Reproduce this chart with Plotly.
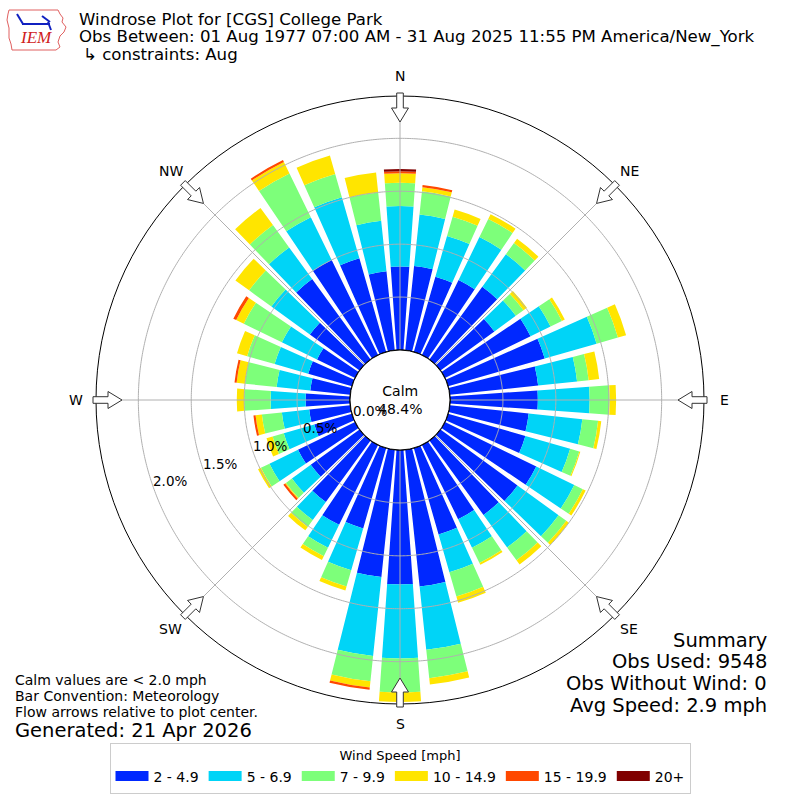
import numpy as np
import plotly.graph_objects as go

# wind direction bins (degrees, meteorological convention)
directions = list(range(0, 360, 10))
speed_bins = ['2 - 4.9', '5 - 6.9', '7 - 9.9', '10 - 14.9', '15 - 19.9', '20+']
colors = ['#0028ff', '#00d4f7', '#7dff7a', '#ffe500', '#ff4800', '#800000']

# frequency (% of obs) for each speed bin, by direction
spd_2_5 = [0.79, 0.80, 0.74, 0.79, 0.85, 0.63, 0.90, 0.95, 0.84, 0.83, 0.75, 0.76,
           0.96, 0.90, 0.87, 0.78, 0.85, 1.30, 1.27, 1.21, 0.79, 0.84, 0.72, 0.57,
           0.60, 0.37, 0.39, 0.42, 0.38, 0.43, 0.40, 0.58, 0.94, 1.00, 0.92, 0.75]
spd_5_7 = [0.57, 0.49, 0.40, 0.45, 0.38, 0.25, 0.21, 0.51, 0.37, 0.49, 0.51, 0.44,
           0.40, 0.48, 0.38, 0.30, 0.37, 0.60, 0.70, 0.75, 0.41, 0.24, 0.21, 0.22,
           0.30, 0.30, 0.26, 0.33, 0.32, 0.33, 0.37, 0.45, 0.37, 0.45, 0.60, 0.48]
spd_7_10 = [0.22, 0.22, 0.19, 0.19, 0.13, 0.09, 0.12, 0.21, 0.11, 0.19, 0.15, 0.09,
            0.09, 0.09, 0.15, 0.16, 0.24, 0.27, 0.32, 0.24, 0.16, 0.09, 0.08, 0.07,
            0.09, 0.11, 0.19, 0.25, 0.30, 0.27, 0.40, 0.26, 0.26, 0.46, 0.23, 0.27]
spd_10_15 = [0.09, 0.04, 0.07, 0.05, 0.05, 0.04, 0.03, 0.08, 0.10, 0.06, 0.03, 0.01,
             0.03, 0.03, 0.05, 0.02, 0.06, 0.06, 0.09, 0.06, 0.04, 0.04, 0.04, 0.01,
             0.03, 0.06, 0.06, 0.07, 0.08, 0.10, 0.08, 0.16, 0.20, 0.12, 0.18, 0.19]
spd_15_20 = [0.02, 0.02, 0, 0, 0, 0, 0, 0, 0, 0, 0, 0,
             0, 0, 0, 0, 0, 0, 0, 0.02, 0, 0, 0, 0.02,
             0, 0, 0.02, 0, 0.02, 0, 0.03, 0, 0, 0.02, 0, 0]
spd_20 = [0.02, 0, 0, 0, 0, 0, 0, 0, 0, 0, 0, 0,
          0, 0, 0, 0, 0, 0, 0, 0, 0, 0, 0, 0,
          0, 0, 0, 0, 0, 0, 0, 0, 0, 0, 0, 0]

calm_pct = 48.4
radial_ticks = [0.0, 0.5, 1.0, 1.5, 2.0]
rmax = 2.4
compass_vals = [0, 45, 90, 135, 180, 225, 270, 315]
compass_text = ['N', 'NE', 'E', 'SE', 'S', 'SW', 'W', 'NW']

FONT = 'DejaVu Sans'
W = H = 800
R_PX = 304  # outer radius of the polar area in pixels
HOLE_PX = 50
CX, CY = 400, 400

fig = go.Figure()

series = [spd_2_5, spd_5_7, spd_7_10, spd_10_15, spd_15_20, spd_20]
for name, vals, col in zip(speed_bins, series, colors):
    fig.add_trace(go.Barpolar(r=vals, theta=directions, width=8,
                              marker=dict(color=col, line=dict(width=0)),
                              name=name, showlegend=False))

# grid drawn on top of the bars (like the matplotlib original)
circ = np.linspace(0, 360, 721)
for rv in radial_ticks[1:]:
    fig.add_trace(go.Scatterpolar(r=[rv] * len(circ), theta=circ, mode='lines',
                                  line=dict(color='#b0b0b0', width=1),
                                  showlegend=False, hoverinfo='skip'))
for a in compass_vals:
    fig.add_trace(go.Scatterpolar(r=[0, rmax], theta=[a, a], mode='lines',
                                  line=dict(color='#b0b0b0', width=1),
                                  showlegend=False, hoverinfo='skip'))
# calm circle outline
fig.add_trace(go.Scatterpolar(r=[0] * len(circ), theta=circ, mode='lines',
                              line=dict(color='black', width=1.2),
                              showlegend=False, hoverinfo='skip'))

# legend entries
for name, col in zip(speed_bins, colors):
    fig.add_trace(go.Scatterpolar(r=[None], theta=[None], mode='lines',
                                  line=dict(color=col, width=10), name=name))


def px2paper(x, y):
    return x / W, 1 - y / H


# flow arrows at compass points, pointing to the plot center
shapes = []
for a in compass_vals:
    b = np.radians(a)
    ux, uy = np.sin(b), -np.cos(b)
    vx, vy = np.cos(b), np.sin(b)
    pts = [(307, -3.3), (292, -3.3), (292, -8.5), (278, 0),
           (292, 8.5), (292, 3.3), (307, 3.3)]
    path = ''
    for i, (rr, ww) in enumerate(pts):
        x, y = px2paper(CX + rr * ux + ww * vx, CY + rr * uy + ww * vy)
        path += ('M' if i == 0 else 'L') + f'{x:.5f},{y:.5f} '
    path += 'Z'
    shapes.append(dict(type='path', path=path, xref='paper', yref='paper',
                       fillcolor='white', line=dict(color='#333333', width=1)))

# rough IEM logo outline
logo = [(9, 10), (58, 10), (60, 14), (63, 18), (62, 22), (66, 27), (64, 32),
        (60, 36), (58, 42), (60, 47), (56, 50), (12, 50), (11, 44), (9, 38),
        (9, 28), (7, 20), (8, 14)]
lp = ''
for i, (x, y) in enumerate(logo):
    xx, yy = px2paper(x, y)
    lp += ('M' if i == 0 else 'L') + f'{xx:.5f},{yy:.5f} '
shapes.append(dict(type='path', path=lp + 'Z', xref='paper', yref='paper',
                   line=dict(color='#e06060', width=1)))
for (x0, y0, x1, y1) in [(22, 24, 50, 24), (17, 14, 23, 24), (42, 16, 50, 22),
                         (48, 22, 51, 30)]:
    a0, b0 = px2paper(x0, y0)
    a1, b1 = px2paper(x1, y1)
    shapes.append(dict(type='line', x0=a0, y0=b0, x1=a1, y1=b1, xref='paper',
                       yref='paper', line=dict(color='#1020c0', width=2)))

annots = []


def add_text(x, y, text, size, xanchor='left', yanchor='middle', **kw):
    xx, yy = px2paper(x, y)
    annots.append(dict(x=xx, y=yy, xref='paper', yref='paper', text=text,
                       showarrow=False, xanchor=xanchor, yanchor=yanchor,
                       borderpad=0,
                       font=dict(family=kw.pop('family', FONT), size=size,
                                 color=kw.pop('color', 'black')), **kw))


add_text(78, 19, 'Windrose Plot for [CGS] College Park', 16.6)
add_text(78, 37, 'Obs Between: 01 Aug 1977 07:00 AM - 31 Aug 2025 11:55 PM America/New_York', 16.6)
add_text(82, 55, '↳ constraints: Aug', 16.6)
add_text(36, 38, '<i>IEM</i>', 17, xanchor='center', color='#d02020',
         family='Liberation Serif')

add_text(CX, CY, f'Calm<br>{calm_pct}%', 14, xanchor='center')

# compass labels on a ring outside the axis circle
for a, t in zip(compass_vals, compass_text):
    b = np.radians(a)
    add_text(CX + 324 * np.sin(b), CY - 324 * np.cos(b), t, 14,
             xanchor='center')

# radial tick labels, placed like matplotlib's rlabels (WSW of centre)
scale = (R_PX - HOLE_PX) / rmax
lab_ang = np.radians(199.5)
for v in radial_ticks:
    rp = HOLE_PX + v * scale - 18
    add_text(CX + rp * np.cos(lab_ang), CY - rp * np.sin(lab_ang),
             f'{v:.1f}%', 13.5, xanchor='center')

add_text(14, 680, 'Calm values are < 2.0 mph', 14)
add_text(14, 696, 'Bar Convention: Meteorology', 14)
add_text(14, 712, 'Flow arrows relative to plot center.', 14)
add_text(14, 730, 'Generated: 21 Apr 2026', 19.5)

add_text(768, 640, 'Summary', 19.5, xanchor='right')
add_text(768, 661, 'Obs Used: 9548', 19.5, xanchor='right')
add_text(768, 683, 'Obs Without Wind: 0', 19.5, xanchor='right')
add_text(768, 705, 'Avg Speed: 2.9 mph', 19.5, xanchor='right')

d0, d1 = (CX - R_PX) / W, (CX + R_PX) / W
fig.update_layout(
    width=W, height=H,
    margin=dict(l=0, r=0, t=0, b=0),
    paper_bgcolor='white',
    font=dict(family=FONT, size=13, color='black'),
    polar=dict(
        domain=dict(x=[d0, d1], y=[d0, d1]),
        bgcolor='white',
        hole=HOLE_PX / R_PX,
        barmode='stack',
        radialaxis=dict(range=[0, rmax], tickvals=radial_ticks,
                        showticklabels=False,
                        showgrid=False, showline=False, ticks=''),
        angularaxis=dict(rotation=90, direction='clockwise',
                         tickmode='array', tickvals=compass_vals,
                         showticklabels=False, showgrid=False,
                         showline=True, linecolor='black', linewidth=1,
                         ticks=''),
    ),
    legend=dict(orientation='h', x=0.5, xanchor='center', y=0.008,
                yanchor='bottom', bgcolor='white', bordercolor='#cccccc',
                borderwidth=1, font=dict(size=14), itemwidth=33,
                title=dict(text='Wind Speed [mph]', side='top center',
                           font=dict(size=13))),
    shapes=shapes,
    annotations=annots,
)

fig.write_html('out.html', config={'displayModeBar': False},
               post_script="document.body.style.margin='0';")
